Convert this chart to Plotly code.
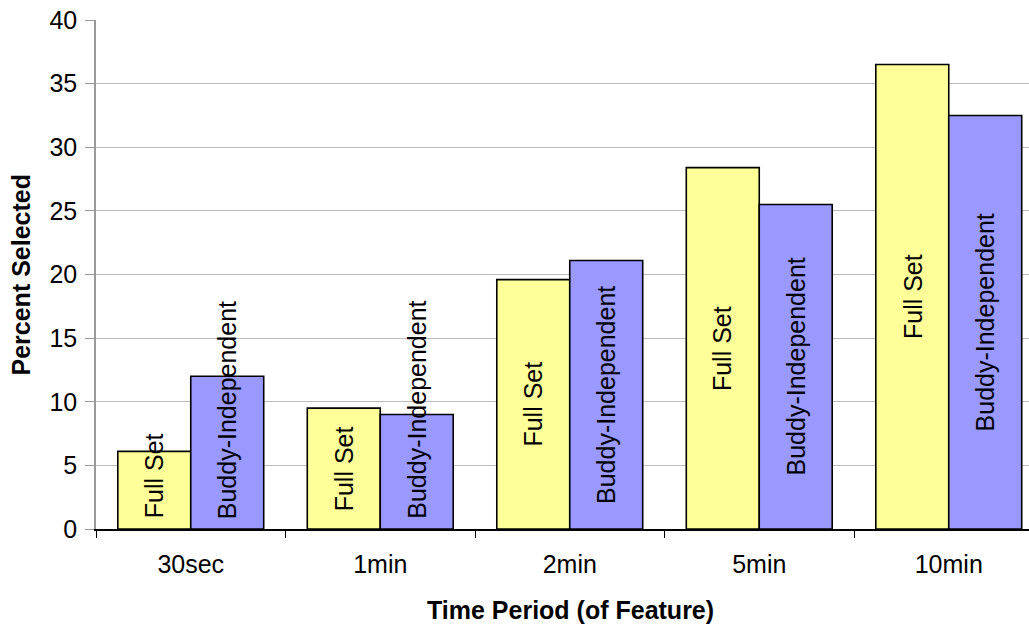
import plotly.graph_objects as go

categories = ["30sec", "1min", "2min", "5min", "10min"]
full_set = [6.1, 9.5, 19.6, 28.4, 36.5]
buddy_independent = [12.0, 9.0, 21.1, 25.5, 32.5]
series_names = ["Full Set", "Buddy-Independent"]
y_ticks = [0, 5, 10, 15, 20, 25, 30, 35, 40]

YELLOW = "#FFFF99"
BLUE = "#9999FF"
FONT = "Liberation Sans, Arial, sans-serif"
FS = 25

W, H = 1029, 628
ML, MR, MT, MB = 96, 0, 20, 99
plot_w = W - ML - MR
plot_h = H - MT - MB
cat_px = 189.5  # pixel width of one category slot (plot continues past the right edge)
x_range = [-0.5, -0.5 + plot_w / cat_px]

fig = go.Figure()
for name, vals, col in [(series_names[0], full_set, YELLOW), (series_names[1], buddy_independent, BLUE)]:
    fig.add_trace(go.Bar(
        x=categories, y=vals, name=name,
        marker=dict(color=col, line=dict(color="black", width=1.6)),
    ))

bargap = 0.23
bar_w = (1 - bargap) / 2
# approximate half text lengths (in data units) for clamping labels at the bar bottom
px_per_unit = plot_h / 40.0
half_len = {series_names[0]: 44 / px_per_unit, series_names[1]: 110 / px_per_unit}
pad = 9 / px_per_unit

annotations = []
for si, (name, vals) in enumerate([(series_names[0], full_set), (series_names[1], buddy_independent)]):
    off = (-0.5 + si) * bar_w
    for i, v in enumerate(vals):
        yc = max(v / 2.0, half_len[name] + pad)
        annotations.append(dict(
            x=i + off, y=yc, xref="x", yref="y", text=name, textangle=-90,
            showarrow=False, font=dict(family=FONT, size=FS, color="black"),
            xanchor="center", yanchor="middle",
        ))

annotations.append(dict(
    x=(20 - ML) / plot_w, y=0.5, xref="paper", yref="paper",
    xanchor="center", yanchor="middle",
    text="<b>Percent Selected</b>", showarrow=False, textangle=-90,
    font=dict(family=FONT, size=FS, color="black"),
))
annotations.append(dict(
    x=(570 - ML) / plot_w, y=-(610 - (MT + plot_h)) / plot_h, xref="paper", yref="paper",
    xanchor="center", yanchor="middle",
    text="<b>Time Period (of Feature)</b>", showarrow=False,
    font=dict(family=FONT, size=FS, color="black"),
))

fig.update_layout(
    width=W, height=H,
    margin=dict(l=ML, r=MR, t=MT, b=MB, pad=0),
    paper_bgcolor="white", plot_bgcolor="white",
    showlegend=False,
    bargap=bargap, bargroupgap=0,
    barmode="group",
    font=dict(family=FONT, size=FS, color="black"),
    annotations=annotations,
)

fig.update_xaxes(
    type="category", range=x_range, tickson="boundaries", ticks="outside", ticklen=7,
    tickcolor="black", tickwidth=1, showline=True, linecolor="black", linewidth=1.5,
    showgrid=False, tickfont=dict(family=FONT, size=FS, color="black"),
    ticklabelstandoff=12,
)
fig.update_yaxes(
    range=[0, 40], tickvals=y_ticks, ticks="outside", ticklen=9, tickcolor="#999999",
    showline=True, linecolor="#999999", linewidth=1.5, showgrid=True, gridcolor="#BBBBBB",
    gridwidth=1, zeroline=False, tickfont=dict(family=FONT, size=FS, color="black"),
    ticklabelstandoff=3,
)

fig.write_html("out.html")
